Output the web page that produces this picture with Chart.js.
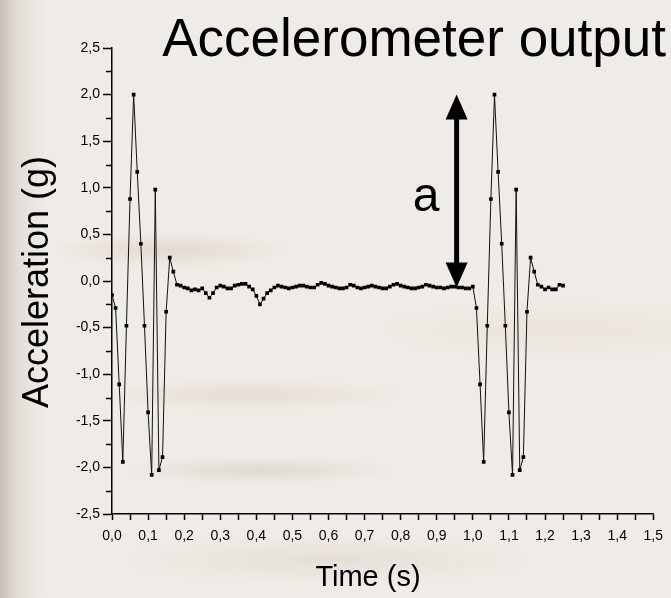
<!DOCTYPE html>
<html><head><meta charset="utf-8">
<script src="https://cdn.jsdelivr.net/npm/chart.js@4.4.0/dist/chart.umd.min.js"></script>
<style>
html,body{margin:0;padding:0;}
body{width:671px;height:598px;overflow:hidden;
background:
 linear-gradient(90deg, rgba(150,140,130,0.45) 0px, rgba(190,182,174,0.25) 18px, rgba(0,0,0,0) 45px),
 radial-gradient(ellipse 120px 18px at 170px 250px, rgba(180,150,120,0.2), rgba(0,0,0,0)),
 radial-gradient(ellipse 160px 16px at 250px 395px, rgba(190,160,130,0.18), rgba(0,0,0,0)),
 radial-gradient(ellipse 140px 14px at 260px 470px, rgba(160,145,130,0.2), rgba(0,0,0,0)),
 radial-gradient(ellipse 200px 30px at 560px 330px, rgba(210,185,160,0.15), rgba(0,0,0,0)),
 radial-gradient(ellipse 220px 25px at 330px 560px, rgba(180,160,140,0.16), rgba(0,0,0,0)),
 #efebe6;}
canvas{display:block;}
</style></head><body>
<canvas id="c" width="671" height="598"></canvas>
<script>
const chartTitle = 'Accelerometer output';
const xTitle = 'Time (s)';
const yTitle = 'Acceleration (g)';
const arrowLabel = 'a';

const timeS = [
 0.00,0.01,0.02,0.03,0.04,0.05,0.06,0.07,0.08,0.09,
 0.10,0.11,0.12,0.13,0.14,0.15,0.16,0.17,0.18,0.19,
 0.20,0.21,0.22,0.23,0.24,0.25,0.26,0.27,0.28,0.29,
 0.30,0.31,0.32,0.33,0.34,0.35,0.36,0.37,0.38,0.39,
 0.40,0.41,0.42,0.43,0.44,0.45,0.46,0.47,0.48,0.49,
 0.50,0.51,0.52,0.53,0.54,0.55,0.56,0.57,0.58,0.59,
 0.60,0.61,0.62,0.63,0.64,0.65,0.66,0.67,0.68,0.69,
 0.70,0.71,0.72,0.73,0.74,0.75,0.76,0.77,0.78,0.79,
 0.80,0.81,0.82,0.83,0.84,0.85,0.86,0.87,0.88,0.89,
 0.90,0.91,0.92,0.93,0.94,0.95,0.96,0.97,0.98,0.99,
 1.00,1.01,1.02,1.03,1.04,1.05,1.06,1.07,1.08,1.09,
 1.10,1.11,1.12,1.13,1.14,1.15,1.16,1.17,1.18,1.19,
 1.20,1.21,1.22,1.23,1.24,1.25
];
const accelG = [
 -0.15,-0.29,-1.11,-1.94,-0.48,0.88,2.00,1.17,0.40,-0.48,
 -1.41,-2.08,0.98,-2.03,-1.89,-0.33,0.25,0.10,
 -0.04,-0.05,-0.07,-0.08,-0.10,-0.09,-0.10,-0.08,-0.13,-0.18,
 -0.13,-0.07,-0.05,-0.06,-0.08,-0.08,-0.05,-0.04,-0.03,-0.03,
 -0.06,-0.09,-0.16,-0.25,-0.19,-0.13,-0.10,-0.07,-0.05,-0.06,
 -0.07,-0.08,-0.07,-0.06,-0.05,-0.05,-0.06,-0.07,-0.07,-0.04,
 -0.02,-0.03,-0.05,-0.06,-0.07,-0.08,-0.08,-0.07,-0.04,-0.05,
 -0.07,-0.08,-0.07,-0.06,-0.05,-0.06,-0.07,-0.08,-0.08,-0.06,
 -0.04,-0.03,-0.05,-0.06,-0.07,-0.08,-0.08,-0.07,-0.06,-0.04,
 -0.05,-0.06,-0.07,-0.07,-0.08,-0.07,-0.06,-0.06,-0.07,-0.07,
 -0.08,-0.08,-0.06,
 -0.29,-1.11,-1.94,-0.48,0.88,2.00,1.17,0.40,-0.48,-1.41,
 -2.08,0.98,-2.03,-1.89,-0.33,0.25,0.10,-0.04,-0.06,-0.09,
 -0.07,-0.09,-0.09,-0.04,-0.05
];
const xTickLabels = ['0,0','0,1','0,2','0,3','0,4','0,5','0,6','0,7','0,8','0,9','1,0','1,1','1,2','1,3','1,4','1,5'];
const yTickLabels = ['-2,5','-2,0','-1,5','-1,0','-0,5','0,0','0,5','1,0','1,5','2,0','2,5'];
const xRange = [0, 1.5];
const yRange = [-2.5, 2.5];
const arrowTime = 0.955;
const arrowTop = 2.0;
const arrowBottom = -0.07;

const points = timeS.map((t, i) => ({x: t, y: accelG[i]}));
const FONT = "'Liberation Sans', Arial, sans-serif";

function isMajor(v, step) { return Math.abs(Math.round(v / step) * step - v) < 1e-6; }

const decor = {
  id: 'decor',
  afterDraw(chart) {
    const ctx = chart.ctx;
    const xs = chart.scales.x, ys = chart.scales.y;
    ctx.save();
    // minor y ticks
    ctx.strokeStyle = '#000'; ctx.lineWidth = 1.5;
    ys.ticks.forEach(t => {
      if (!isMajor(t.value, 0.5)) {
        const py = Math.round(ys.getPixelForValue(t.value)) + 0.5;
        ctx.beginPath(); ctx.moveTo(xs.left - 6, py); ctx.lineTo(xs.left, py); ctx.stroke();
      }
    });
    // title
    ctx.fillStyle = '#000';
    ctx.font = '53px ' + FONT;
    ctx.textAlign = 'right'; ctx.textBaseline = 'alphabetic';
    ctx.fillText(chartTitle, 666, 56);
    // x title
    ctx.font = '29px ' + FONT;
    ctx.textAlign = 'center'; ctx.textBaseline = 'middle';
    ctx.fillText(xTitle, 368, 578);
    // y title
    ctx.save();
    ctx.translate(38, 282); ctx.rotate(-Math.PI / 2);
    ctx.font = '36px ' + FONT;
    ctx.fillText(yTitle, 0, 0);
    ctx.restore();
    // arrow
    const ax = xs.getPixelForValue(arrowTime);
    const yT = ys.getPixelForValue(arrowTop);
    const yB = ys.getPixelForValue(arrowBottom);
    const hw = 11, hl = 25;
    ctx.lineWidth = 5;
    ctx.beginPath(); ctx.moveTo(ax, yT + hl - 2); ctx.lineTo(ax, yB - hl + 2); ctx.stroke();
    ctx.beginPath(); ctx.moveTo(ax, yT); ctx.lineTo(ax + hw, yT + hl); ctx.lineTo(ax - hw, yT + hl); ctx.closePath(); ctx.fill();
    ctx.beginPath(); ctx.moveTo(ax, yB); ctx.lineTo(ax + hw, yB - hl); ctx.lineTo(ax - hw, yB - hl); ctx.closePath(); ctx.fill();
    // label a
    ctx.font = '48px ' + FONT;
    ctx.textAlign = 'center'; ctx.textBaseline = 'alphabetic';
    ctx.fillText(arrowLabel, 426, 211);
    ctx.restore();
  }
};

new Chart(document.getElementById('c'), {
  type: 'line',
  data: { datasets: [{
    data: points,
    borderColor: '#111', borderWidth: 1,
    pointStyle: 'rect', pointRadius: 2.6, pointBackgroundColor: '#000', pointBorderWidth: 0,
    tension: 0, fill: false
  }]},
  options: {
    responsive: false, animation: false, devicePixelRatio: 1,
    layout: { padding: { top: 48, right: 15, left: 0, bottom: 0 } },
    plugins: { legend: { display: false }, tooltip: { enabled: false }, title: { display: false } },
    scales: {
      x: {
        type: 'linear', min: xRange[0], max: xRange[1],
        afterFit(s) { s.height = 84; },
        border: { display: true, color: '#000', width: 1.5 },
        grid: { drawOnChartArea: false, drawTicks: true, tickLength: 6, tickColor: '#000', tickWidth: 1.5 },
        ticks: {
          stepSize: 0.05, autoSkip: false, maxRotation: 0, padding: 8, color: '#000',
          font: { family: FONT, size: 14 },
          callback(v) { return isMajor(v, 0.1) ? xTickLabels[Math.round(v * 10)] : ''; }
        }
      },
      y: {
        type: 'linear', min: yRange[0], max: yRange[1],
        afterFit(s) { s.width = 112; },
        border: { display: true, color: '#000', width: 1.5 },
        grid: { drawOnChartArea: false, drawTicks: true, tickLength: 9,
          tickColor: c => isMajor(c.tick.value, 0.5) ? '#000' : 'rgba(0,0,0,0)', tickWidth: 1.5 },
        ticks: {
          stepSize: 0.25, autoSkip: false, padding: 3, color: '#000',
          font: { family: FONT, size: 14 },
          callback(v) { return isMajor(v, 0.5) ? yTickLabels[Math.round((v + 2.5) * 2)] : ''; }
        }
      }
    }
  },
  plugins: [decor]
});
</script>
</body></html>
